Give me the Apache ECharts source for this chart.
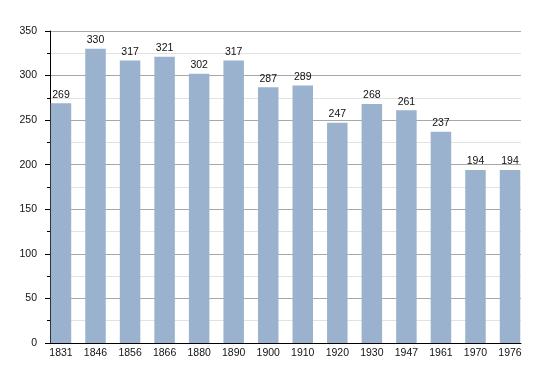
<!DOCTYPE html>
<html>
<head>
<meta charset="utf-8">
<script src="https://cdn.jsdelivr.net/npm/echarts@6/dist/echarts.min.js"></script>
<style>
html,body{margin:0;padding:0;background:#fff;}
#c{width:550px;height:373px;}
</style>
</head>
<body>
<div id="c"></div>
<script>
const years = ['1831','1846','1856','1866','1880','1890','1900','1910','1920','1930','1947','1961','1970','1976'];
const population = [269,330,317,321,302,317,287,289,247,268,261,237,194,194];
const yTicks = {min: 0, max: 350, interval: 50};

const font = 'Liberation Sans, Arial, sans-serif';
const chart = echarts.init(document.getElementById('c'), null, {renderer: 'canvas'});
chart.setOption({
  animation: false,
  backgroundColor: '#fff',
  grid: [
    {left: 50, right: 29, top: 31, bottom: 30},
    {left: 43.7, right: 22.7, top: 31, bottom: 30}
  ],
  xAxis: [
    {gridIndex: 0, type: 'value', min: 0, max: 1,
     axisLine: {show: true, lineStyle: {color: '#000', width: 1}},
     axisTick: {show: false}, axisLabel: {show: false}, splitLine: {show: false}},
    {gridIndex: 1, type: 'category', data: years,
     axisLine: {show: false}, axisTick: {show: false},
     axisLabel: {color: '#111', fontSize: 10.5, fontFamily: font, margin: 5}}
  ],
  yAxis: [
    {gridIndex: 0, type: 'value', min: yTicks.min, max: yTicks.max, interval: yTicks.interval,
     axisLine: {show: true, lineStyle: {color: '#000', width: 1}},
     axisTick: {show: true, length: 5, lineStyle: {color: '#000'}},
     minorTick: {show: true, splitNumber: 2, length: 3, lineStyle: {color: '#000'}},
     axisLabel: {color: '#111', fontSize: 10.5, fontFamily: font, margin: 13},
     splitLine: {show: true, lineStyle: {color: '#a8a8a8', width: 1}},
     minorSplitLine: {show: true, lineStyle: {color: '#e2e2e2', width: 1}}},
    {gridIndex: 1, type: 'value', min: yTicks.min, max: yTicks.max, show: false}
  ],
  series: [{
    type: 'bar', xAxisIndex: 1, yAxisIndex: 1,
    data: population, barWidth: 20.5,
    itemStyle: {color: '#9ab2cd'},
    label: {show: true, position: 'top', distance: 3, color: '#111', fontSize: 10.5, fontFamily: font}
  }]
});
</script>
</body>
</html>
